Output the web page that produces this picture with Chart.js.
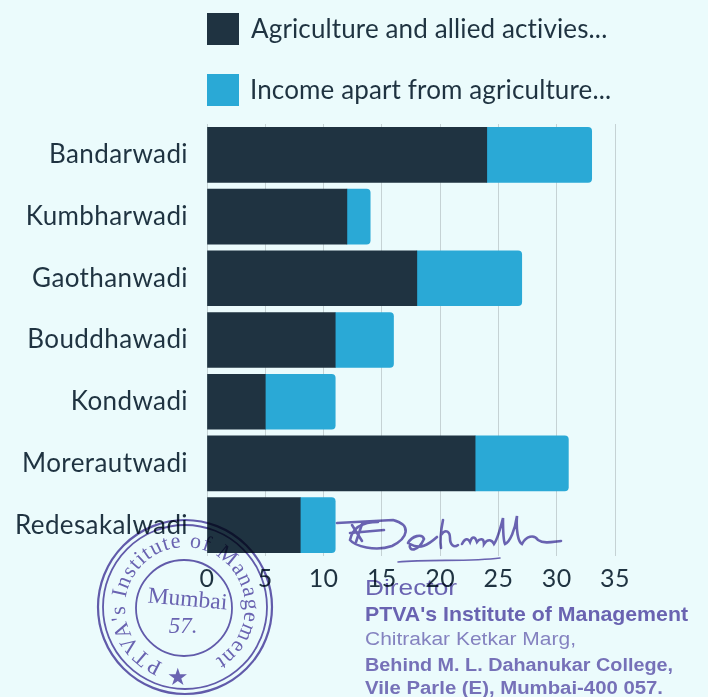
<!DOCTYPE html>
<html>
<head>
<meta charset="utf-8">
<title>Income sources by wadi</title>
<script src="https://cdn.jsdelivr.net/npm/chart.js@4"></script>
<style>
    html, body { margin: 0; padding: 0; background: #ebfbfc; overflow: hidden; }
    #wrap { position: relative; width: 708px; height: 697px; }
    #chart { position: absolute; left: 0; top: 0; }
    .legend-box { position: absolute; left: 207px; width: 32px; height: 32px; }
    .legend-text { position: absolute; font: 26px Lato, sans-serif; letter-spacing: 0.13px; color: #1f3341; white-space: nowrap; line-height: 30px; }
    #stamp { position: absolute; left: 0; top: 0; mix-blend-mode: multiply; }
</style>
</head>
<body>
<div id="wrap">
    <canvas id="chart" width="708" height="697"></canvas>
    <div id="legend"></div>
    <svg id="stamp" width="708" height="697" viewBox="0 0 708 697">
        <defs>
            <path id="ring" d="M 163 663 A 60 60 0 1 1 207 663"></path>
            <filter id="soft"><feGaussianBlur stdDeviation="0.7"></feGaussianBlur></filter>
        </defs>
        <g filter="url(#soft)" fill="#5a4aa6" stroke="none" opacity="0.85">
            <circle cx="185" cy="607" r="87" fill="none" stroke="#4f3f9e" stroke-width="2.2"></circle>
            <circle cx="185" cy="607" r="82" fill="none" stroke="#4f3f9e" stroke-width="1.8"></circle>
            <circle cx="184" cy="608" r="48" fill="none" stroke="#4f3f9e" stroke-width="1.8"></circle>
            <text font-family="Liberation Serif" font-size="22">
                <textPath href="#ring" textLength="322" lengthAdjust="spacing">PTVA's Institute of Management</textPath>
            </text>
            <text x="187" y="606" font-family="Liberation Serif" font-size="23" text-anchor="middle" textLength="80" lengthAdjust="spacingAndGlyphs" transform="rotate(5 187 606)">Mumbai</text>
            <text x="183" y="633" font-family="Liberation Serif" font-size="23" text-anchor="middle" font-style="italic">57.</text>
            <text x="178" y="685" font-family="Liberation Serif" font-size="24" text-anchor="middle">★</text>
            <g fill="none" stroke="#5a4aa6" stroke-width="2.6" stroke-linecap="round">
                <path d="M337 523 L393 520 C412 525 408 538 392 546 C375 552 355 546 350 540 C352 530 360 522 378 522"></path>
                <path d="M352 525 L362 541 M362 524 L356 542 M350 533 L384 530"></path>
                <path d="M408 543 C412 536 422 533 424 539 C418 552 408 552 410 544 C420 550 428 545 437 537"></path>
                <path d="M443 520 C441 530 440 542 441 548 M441 535 C446 528 450 532 450 538 C450 545 454 548 458 545"></path>
                <path d="M462 544 C465 538 468 538 470 542 C472 536 475 536 477 542 C480 538 484 538 484 544 C488 538 492 540 494 544 C497 540 500 530 503 518 C503 530 503 540 505 544 C510 542 515 530 517 516 C516 530 518 542 522 544 C526 536 534 534 538 540 C544 544 552 542 561 541"></path>
                <path d="M398 562 C430 559 470 562 500 558" stroke-width="1.6"></path>
            </g>
            <g font-family="Liberation Sans">
                <text x="365" y="595" font-size="22" textLength="92" lengthAdjust="spacingAndGlyphs">Director</text>
                <text x="365" y="621" font-size="21" font-weight="bold" textLength="323" lengthAdjust="spacingAndGlyphs">PTVA's Institute of Management</text>
                <text x="365" y="645" font-size="18" opacity="0.8" textLength="211" lengthAdjust="spacingAndGlyphs">Chitrakar Ketkar Marg,</text>
                <text x="365" y="671" font-size="18" font-weight="bold" opacity="0.9" textLength="308" lengthAdjust="spacingAndGlyphs">Behind M. L. Dahanukar College,</text>
                <text x="365" y="694" font-size="18" font-weight="bold" opacity="0.9" textLength="298" lengthAdjust="spacingAndGlyphs">Vile Parle (E), Mumbai-400 057.</text>
            </g>
        </g>
    </svg>
</div>
<script>
const categories = ["Bandarwadi", "Kumbharwadi", "Gaothanwadi", "Bouddhawadi", "Kondwadi", "Morerautwadi", "Redesakalwadi"];
const agricultureValues = [24, 12, 18, 11, 5, 23, 8];
const otherIncomeValues = [9, 2, 9, 5, 6, 8, 3];
const seriesNames = ["Agriculture and allied activies...", "Income apart from agriculture..."];
const seriesColors = ["#1f3341", "#2aa9d6"];
const textColor = "#1f3341";

let legend = document.getElementById("legend");
let legendTops = [13, 74];
let legendLefts = [251, 250];
seriesNames.forEach((name, i) => {
    let box = document.createElement("div");
    box.className = "legend-box";
    box.style.top = legendTops[i] + "px";
    box.style.background = seriesColors[i];
    legend.appendChild(box);
    let label = document.createElement("div");
    label.className = "legend-text";
    label.style.left = legendLefts[i] + "px";
    label.style.top = legendTops[i] + "px";
    label.textContent = name;
    legend.appendChild(label);
});

// the reference font runs wider than anything installed
const wideText = {
    id: "wideText",
    beforeDraw: function (chart) { chart.ctx.letterSpacing = "0.4px"; }
};

new Chart(document.getElementById("chart").getContext("2d"), {
    type: "bar",
    plugins: [wideText],
    data: {
        labels: categories,
        datasets: [
            {
                label: seriesNames[0],
                data: agricultureValues,
                backgroundColor: seriesColors[0],
                barThickness: 55
            },
            {
                label: seriesNames[1],
                data: otherIncomeValues,
                backgroundColor: seriesColors[1],
                barThickness: 55,
                borderRadius: { topRight: 4, bottomRight: 4 },
                borderSkipped: false
            }
        ]
    },
    options: {
        indexAxis: "y",
        responsive: false,
        animation: false,
        layout: { padding: { top: 124, right: 93, left: 0, bottom: 0 } },
        plugins: { legend: { display: false }, tooltip: { enabled: false } },
        scales: {
            x: {
                stacked: true,
                min: 0,
                max: 35,
                ticks: { stepSize: 5, color: textColor, font: { family: "Lato", size: 25 }, padding: 8, maxRotation: 0 },
                grid: { color: "#c5d2d4", drawTicks: false },
                border: { display: false },
                afterFit: function (scale) { scale.height = 141; }
            },
            y: {
                stacked: true,
                ticks: { color: textColor, font: { family: "Lato", size: 26 }, padding: 19, autoSkip: false },
                grid: { display: false, drawTicks: false },
                border: { display: false },
                afterFit: function (scale) { scale.width = 207; }
            }
        }
    }
});
</script>
</body>
</html>
